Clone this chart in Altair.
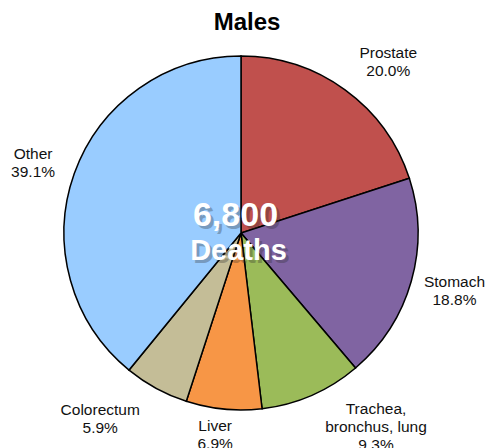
import altair as alt
import pandas as pd

# ---- data ----
categories = ["Prostate", "Stomach", "Trachea, bronchus, lung", "Liver", "Colorectum", "Other"]
label_names = ["Prostate", "Stomach", "Trachea,\nbronchus, lung", "Liver", "Colorectum", "Other"]
shares = [20.0, 18.8, 9.3, 6.9, 5.9, 39.1]
colors = ["#C0504D", "#8064A2", "#9BBB59", "#F79646", "#C4BD97", "#99CCFF"]
center_value = ["6,800"]
center_unit = ["Deaths"]
title_text = "Males"

df = pd.DataFrame({
    "category": categories,
    "label": [f"{n}\n{v:.1f}%" for n, v in zip(label_names, shares)],
    "share": shares,
    "order": list(range(len(categories))),
})
value_df = pd.DataFrame({"text": center_value})
unit_df = pd.DataFrame({"text": center_unit})

CX, CY = 233, 185
R = 177
FONT = "Liberation Sans"
theta_scale = alt.Scale(domain=[0, 100])

base = alt.Chart(df)

pie = base.mark_arc(outerRadius=R, stroke="black", strokeWidth=1.5).encode(
    theta=alt.Theta("share:Q", stack=True, scale=theta_scale),
    color=alt.Color("category:N", scale=alt.Scale(domain=categories, range=colors), legend=None),
    order=alt.Order("order:Q"),
    x=alt.value(CX),
    y=alt.value(CY),
)

# label nudges (styling offsets from the slice mid-angle)
nudges = {
    "Prostate": (15, 2),
    "Stomach": (-3, -12),
    "Trachea, bronchus, lung": (45, -30),
    "Liver": (-4, -31),
    "Colorectum": (-33, -21),
    "Other": (4, -3),
}

label_layers = []
for cat in categories:
    dx, dy = nudges[cat]
    lyr = base.transform_stack(
        stack="share", groupby=[], as_=["s0", "s1"], sort=[alt.SortField("order")]
    ).transform_calculate(
        mid="(datum.s0 + datum.s1) / 2"
    ).transform_filter(
        alt.datum.category == cat
    ).mark_text(
        radius=225, dx=dx, dy=dy, fontSize=15.5, lineHeight=18, font=FONT,
        color="#111", lineBreak="\n", align="center", baseline="middle",
    ).encode(
        theta=alt.Theta("mid:Q", scale=theta_scale, stack=None),
        text="label:N",
        x=alt.value(CX),
        y=alt.value(CY),
    )
    label_layers.append(lyr)


def center_layer(data, size, dx, dy, shadow):
    if shadow:
        kw = dict(color="#2a2a2a", opacity=0.3, dx=dx + 3, dy=dy + 3)
    else:
        kw = dict(color="white", dx=dx, dy=dy)
    return alt.Chart(data).mark_text(
        fontSize=size, fontWeight="bold", font=FONT, align="center",
        baseline="alphabetic", **kw,
    ).encode(text="text:N", x=alt.value(CX), y=alt.value(CY))


centers = [
    center_layer(value_df, 34, -5.5, -7, True),
    center_layer(unit_df, 29, -2.5, 27, True),
    center_layer(value_df, 34, -5.5, -7, False),
    center_layer(unit_df, 29, -2.5, 27, False),
]

chart = alt.layer(pie, *label_layers, *centers).properties(
    width=478,
    height=400,
    padding={"top": 40, "left": 0, "right": 0, "bottom": 0},
    autosize=alt.AutoSizeParams(type="none"),
    title=alt.TitleParams(title_text, fontSize=24, fontWeight="bold", font=FONT,
                          color="black", anchor="middle", offset=11),
).configure_view(stroke=None)

chart.save("out.html", embed_options={"renderer": "svg", "actions": False})
